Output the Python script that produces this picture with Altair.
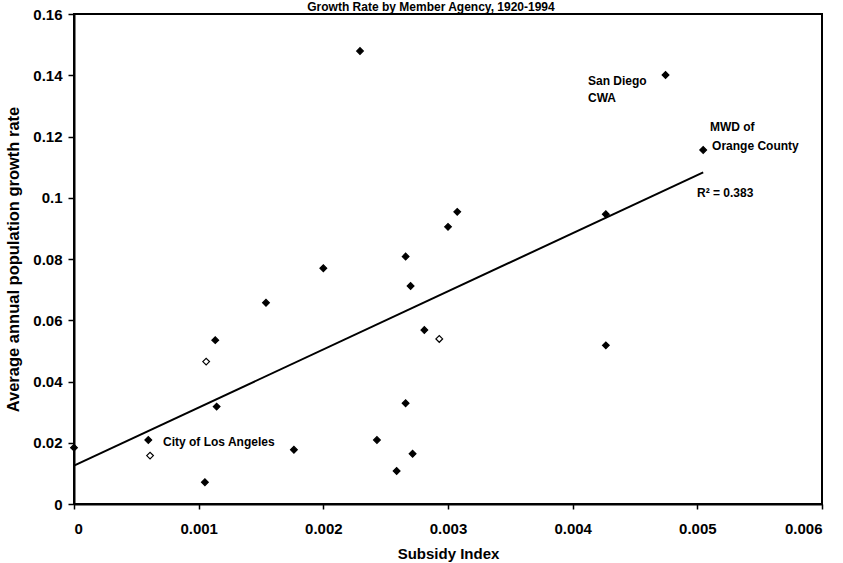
import altair as alt
import pandas as pd

FONT = "Liberation Sans"

# Data points (Subsidy Index vs growth rate)
subsidy_index = [0.0, 0.000596, 0.00061, 0.00105, 0.00106, 0.001133, 0.001144,
                 0.00154, 0.001764, 0.0020, 0.002294, 0.00243, 0.002588, 0.00266,
                 0.00266, 0.0027, 0.002716, 0.00281, 0.00293, 0.0030, 0.003074,
                 0.004266, 0.004266, 0.004745, 0.005047]
growth_rate = [0.0184, 0.0209, 0.0158, 0.0071, 0.0465, 0.0535, 0.0318,
               0.0657, 0.0177, 0.0770, 0.1479, 0.0209, 0.0108, 0.0329,
               0.0808, 0.0712, 0.0164, 0.0568, 0.0539, 0.0905, 0.0954,
               0.0946, 0.0518, 0.1401, 0.1156]
marker = ["solid", "solid", "open", "solid", "open", "solid", "solid",
          "solid", "solid", "solid", "solid", "solid", "solid", "solid",
          "solid", "solid", "solid", "solid", "open", "solid", "solid",
          "solid", "solid", "solid", "solid"]

# Annotations (text, placed in data coordinates)
note_text = ["San Diego", "CWA", "MWD of", "Orange County",
             "City of Los Angeles", "R\u00b2 = 0.383"]
note_x = [0.004123, 0.004123, 0.005101, 0.005118, 0.000714, 0.004997]
note_y = [0.1381, 0.1326, 0.1231, 0.1169, 0.0202, 0.1015]

x_ticks = [0, 0.001, 0.002, 0.003, 0.004, 0.005, 0.006]
y_ticks = [0, 0.02, 0.04, 0.06, 0.08, 0.1, 0.12, 0.14, 0.16]

title_text = ["Growth Rate by Member Agency, 1920-1994"]

df = pd.DataFrame({"x": subsidy_index, "y": growth_rate, "marker": marker})
notes = pd.DataFrame({"x": note_x, "y": note_y, "label": note_text})
heading = pd.DataFrame({"label": title_text})

xscale = alt.Scale(domain=[0, 0.006], nice=False, zero=False)
yscale = alt.Scale(domain=[0, 0.16], nice=False, zero=False)

x_enc = alt.X("x:Q", scale=xscale, title="Subsidy Index",
              axis=alt.Axis(values=x_ticks, format="~g", tickSize=5,
                            labelPadding=12, titlePadding=10))
y_enc = alt.Y("y:Q", scale=yscale, title="Average annual population growth rate",
              axis=alt.Axis(values=y_ticks, format="~g", tickSize=6,
                            labelPadding=6, titlePadding=11, titleFontSize=16.5))

points = alt.Chart(df).mark_point(
    shape="diamond", filled=True, size=45, opacity=1, strokeWidth=1.2
).encode(
    x=x_enc,
    y=y_enc,
    fill=alt.Fill("marker:N",
                  scale=alt.Scale(domain=["solid", "open"], range=["black", "white"]),
                  legend=None),
    stroke=alt.value("black"),
)

trend = alt.Chart(df).transform_regression("x", "y").mark_line(
    color="black", strokeWidth=2
).encode(x="x:Q", y="y:Q")

texts = alt.Chart(notes).mark_text(
    align="left", baseline="middle", font=FONT, fontSize=12,
    fontWeight="bold", color="black"
).encode(x="x:Q", y="y:Q", text="label:N")

title_mark = alt.Chart(heading).mark_text(
    align="center", baseline="alphabetic", font=FONT, fontSize=12,
    fontWeight="bold", color="black"
).encode(x=alt.value(357), y=alt.value(-3), text="label:N")

chart = alt.layer(trend, points, texts, title_mark).properties(
    width=748,
    height=490,
    autosize=alt.AutoSizeParams(type="none"),
    padding={"left": 74, "top": 14, "right": 21, "bottom": 59},
).configure_view(
    stroke="black", strokeWidth=2
).configure_axis(
    grid=False,
    domainColor="black", domainWidth=2,
    tickColor="black", tickWidth=1.5,
    labelFont=FONT, labelFontSize=15, labelFontWeight="bold", labelColor="black",
    titleFont=FONT, titleFontSize=15, titleFontWeight="bold", titleColor="black",
)

chart.save("out.html", embed_options={"renderer": "svg", "actions": False})
